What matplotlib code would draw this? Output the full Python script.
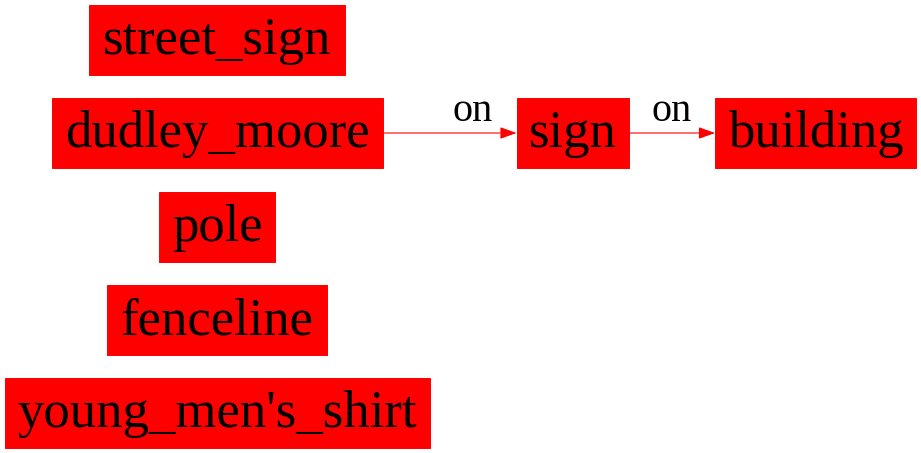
import matplotlib
matplotlib.use("Agg")
import matplotlib.pyplot as plt
from matplotlib.patches import Rectangle, FancyArrowPatch

# scene graph content
NODES = ["street_sign", "dudley_moore", "pole", "fenceline", "young_men's_shirt", "sign", "building"]
EDGES = [("dudley_moore", "sign", "on"), ("sign", "building", "on")]

# layout in pixels (center x, center y, box width), like a dot layout
LAYOUT = {
    "street_sign": (217, 39.5, 256),
    "dudley_moore": (217.5, 133, 331),
    "pole": (217, 226.5, 116),
    "fenceline": (217, 320, 220),
    "young_men's_shirt": (217, 413, 425),
    "sign": (572.5, 133, 112),
    "building": (815.5, 133, 201),
}
# edge label centers (x, baseline y)
LABEL_POS = {("dudley_moore", "sign"): (473, 121), ("sign", "building"): (672, 121)}
BOX_H = 70
FILL = "#ff0000"

W, H = 921, 453
fig = plt.figure(figsize=(W / 100, H / 100), dpi=100)
ax = fig.add_axes([0, 0, 1, 1])
ax.set_xlim(0, W)
ax.set_ylim(H, 0)
ax.axis("off")

for name in NODES:
    cx, cy, w = LAYOUT[name]
    ax.add_patch(Rectangle((cx - w / 2, cy - BOX_H / 2), w, BOX_H,
                           facecolor=FILL, edgecolor=FILL, linewidth=0.7, zorder=2))
    ax.text(cx, cy + 14.5, name, ha="center", va="baseline", fontsize=38,
            family="Liberation Serif", color="black", zorder=3)

for src, dst, label in EDGES:
    sx, sy, sw = LAYOUT[src]
    dx, dy, dw = LAYOUT[dst]
    x0 = sx + sw / 2
    x1 = dx - dw / 2
    ax.add_patch(FancyArrowPatch((x0, sy), (x1, dy),
                                 arrowstyle="-|>,head_length=1.0,head_width=0.36",
                                 mutation_scale=10, color=FILL, linewidth=0.8,
                                 shrinkA=0, shrinkB=0, zorder=1))
    lx, ly = LABEL_POS[(src, dst)]
    ax.text(lx, ly, label, ha="center", va="baseline", fontsize=29,
            family="Liberation Serif", color="black", zorder=3)

fig.savefig("out.png", dpi=100)
